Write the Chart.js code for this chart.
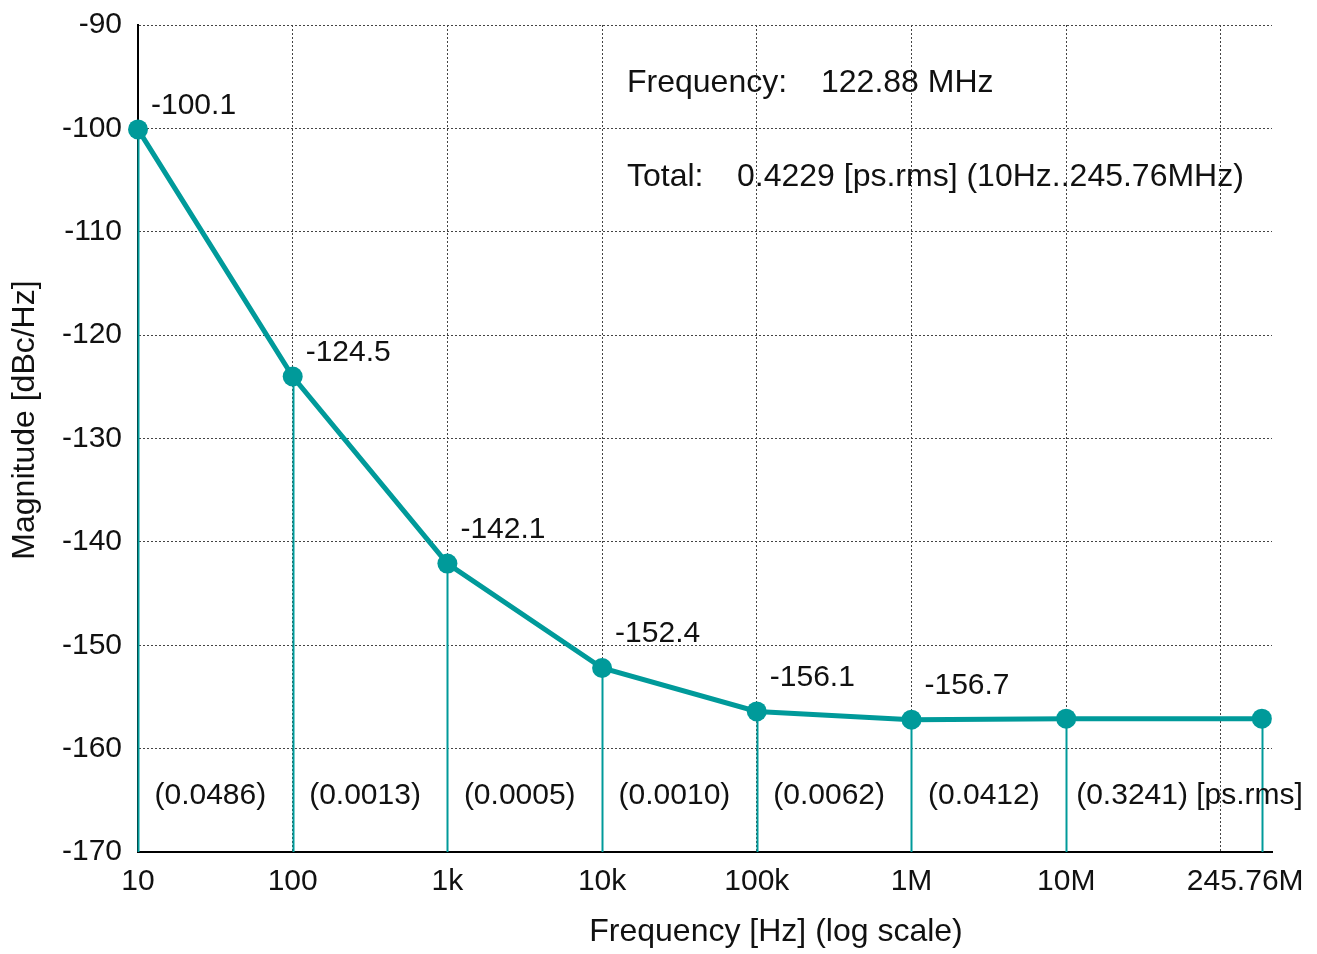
<!DOCTYPE html>
<html>
<head>
<meta charset="utf-8">
<script src="https://cdn.jsdelivr.net/npm/chart.js@4.4.0/dist/chart.umd.min.js"></script>
<style>
    html, body { margin: 0; padding: 0; background: #fff; }
    #wrap { width: 1317px; height: 954px; }
</style>
</head>
<body>
<div id="wrap"><canvas id="noise-chart"></canvas></div>
<script>
// Offset frequency [Hz] of each point (last point sits where the chart draws it)
const freqs = [10, 100, 1e3, 1e4, 1e5, 1e6, 1e7, 1.84e8];
// Phase noise magnitude [dBc/Hz], read from the point positions
const magnitude = [-100.1, -124.0, -142.1, -152.2, -156.4, -157.2, -157.1, -157.1];
// Text shown next to the points
const pointLabels = ['-100.1', '-124.5', '-142.1', '-152.4', '-156.1', '-156.7', '', ''];
// Integrated jitter per segment [ps.rms]
const jitterLabels = ['(0.0486)', '(0.0013)', '(0.0005)', '(0.0010)', '(0.0062)', '(0.0412)', '(0.3241) [ps.rms]'];
// X axis ticks
const xTicks = [10, 100, 1e3, 1e4, 1e5, 1e6, 1e7, 1e8, 1.84e8];
const xTickLabels = ['10', '100', '1k', '10k', '100k', '1M', '10M', '', '245.76M\u00a0\u00a0\u00a0\u00a0'];
const xMin = 10, xMax = 2.14e8;
const yMin = -170, yMax = -90, yStep = 10;

const TEAL = '#009a9a';
const FONT = '"Liberation Sans", Arial, sans-serif';
const NUM_SIZE = 30;   // numbers
const TEXT_SIZE = 32;  // words (titles, info text)

// Vertical drop lines, point labels, segment jitter, axis titles and the info text
const annotations = {
    id: 'annotations',
    beforeDatasetsDraw(chart) {
        const { ctx, chartArea, scales: { x, y } } = chart;
        ctx.save();
        ctx.strokeStyle = TEAL;
        ctx.lineWidth = 2;
        freqs.forEach((f, i) => {
            const px = Math.round(x.getPixelForValue(f)) + 0.5;
            ctx.beginPath();
            ctx.moveTo(px, y.getPixelForValue(magnitude[i]));
            ctx.lineTo(px, chartArea.bottom);
            ctx.stroke();
        });
        ctx.restore();
    },
    afterDatasetsDraw(chart) {
        const { ctx, chartArea, scales: { x, y } } = chart;
        ctx.save();
        ctx.fillStyle = '#111';
        ctx.font = `${NUM_SIZE}px ${FONT}`;
        ctx.textBaseline = 'middle';

        // value labels above-right of the points
        ctx.textAlign = 'left';
        pointLabels.forEach((txt, i) => {
            if (!txt) return;
            const px = x.getPixelForValue(freqs[i]);
            const py = y.getPixelForValue(magnitude[i]);
            ctx.fillText(txt, px + 13, py - (i < 2 ? 24 : 34));
        });

        // jitter of each segment
        const jy = chartArea.bottom - 56;
        jitterLabels.forEach((txt, i) => {
            const x0 = x.getPixelForValue(freqs[i]);
            const x1 = x.getPixelForValue(freqs[i + 1]);
            if (i === jitterLabels.length - 1) {
                ctx.textAlign = 'left';
                ctx.fillText(txt, x0 + 10, jy);
            } else {
                ctx.textAlign = 'center';
                ctx.fillText(txt, (x0 + x1) / 2 - 5, jy);
            }
        });

        // info box text
        const left = chartArea.left + 489;
        ctx.font = `${TEXT_SIZE}px ${FONT}`;
        ctx.textAlign = 'left';
        ctx.fillText('Frequency:', left, chartArea.top + 58);
        ctx.fillText('122.88 MHz', left + 194, chartArea.top + 58);
        ctx.fillText('Total:', left, chartArea.top + 152);
        ctx.fillText('0.4229 [ps.rms] (10Hz..245.76MHz)', left + 110, chartArea.top + 152);

        // axis titles (placed off-centre like the original)
        ctx.textAlign = 'center';
        ctx.fillText('Frequency [Hz] (log scale)', chartArea.left + 638, chartArea.bottom + 80);
        ctx.translate(25, chartArea.top + 395);
        ctx.rotate(-Math.PI / 2);
        ctx.fillText('Magnitude [dBc/Hz]', 0, 0);
        ctx.restore();
    }
};

Chart.defaults.font.family = FONT;
Chart.defaults.font.size = NUM_SIZE;
Chart.defaults.color = '#111';

const ctx = document.getElementById('noise-chart').getContext('2d');
new Chart(ctx, {
    type: 'line',
    data: {
        datasets: [{
            data: freqs.map((f, i) => ({ x: f, y: magnitude[i] })),
            borderColor: TEAL,
            backgroundColor: TEAL,
            borderWidth: 5,
            pointRadius: 10,
            pointBorderWidth: 0,
            pointBackgroundColor: TEAL,
            tension: 0,
            clip: false
        }]
    },
    options: {
        responsive: true,
        maintainAspectRatio: false,
        animation: false,
        layout: { padding: { top: 25, right: 45, left: 0, bottom: 0 } },
        plugins: {
            legend: { display: false },
            tooltip: { enabled: false }
        },
        scales: {
            x: {
                type: 'logarithmic',
                min: xMin,
                max: xMax,
                afterBuildTicks: scale => {
                    scale.ticks = xTicks.map(v => ({ value: v }));
                },
                afterFit: scale => {
                    scale.height = 102;
                    scale.paddingLeft = 0;
                    scale.paddingRight = 0;
                },
                ticks: {
                    autoSkip: false,
                    maxRotation: 0,
                    minRotation: 0,
                    padding: 12,
                    color: '#111',
                    callback: (value) => {
                        const idx = xTicks.indexOf(value);
                        return idx >= 0 ? xTickLabels[idx] : '';
                    }
                },
                grid: {
                    drawTicks: false,
                    lineWidth: 1,
                    color: c => {
                        const v = c.tick ? c.tick.value : null;
                        // no grid line at the first and last point (axis / drop line)
                        if (v === xTicks[0] || v === xTicks[xTicks.length - 1]) return 'rgba(0,0,0,0)';
                        return '#444';
                    }
                },
                border: { display: true, color: '#000', width: 2, dash: [2, 2] },
                title: { display: false }
            },
            y: {
                type: 'linear',
                min: yMin,
                max: yMax,
                afterFit: scale => {
                    scale.width = 138;
                    scale.paddingTop = 0;
                    scale.paddingBottom = 0;
                },
                ticks: {
                    stepSize: yStep,
                    padding: 16,
                    color: '#111'
                },
                grid: {
                    drawTicks: false,
                    lineWidth: 1,
                    color: '#444'
                },
                border: { display: true, color: '#000', width: 2, dash: [2, 2] },
                title: { display: false }
            }
        }
    },
    plugins: [annotations]
});
</script>
</body>
</html>
